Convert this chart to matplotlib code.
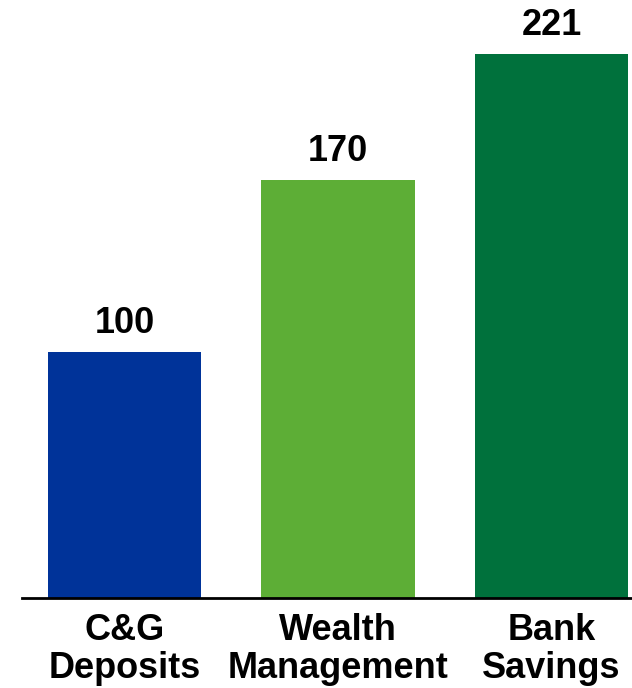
import matplotlib
matplotlib.use('Agg')
import matplotlib.pyplot as plt

# Índices por linha de negócio (base 100 = C&G Deposits)
categorias = ['C&G\nDeposits', 'Wealth\nManagement', 'Bank\nSavings']
valores = [100, 170, 221]
cores = ['#003399', '#5DAE36', '#00713C']

plt.rcParams['font.family'] = ['Liberation Sans', 'DejaVu Sans']

fig = plt.figure(figsize=(6.32, 6.88), dpi=100)
ax = fig.add_axes([22 / 632, 90 / 688, 610 / 632, 598 / 688])

x = range(len(valores))
bars = ax.bar(x, valores, width=0.717, color=cores, linewidth=0)

# valor em cima de cada barra
for bar, val in zip(bars, valores):
    ax.annotate(str(val),
                xy=(bar.get_x() + bar.get_width() / 2, bar.get_height()),
                xytext=(0, 13.5), textcoords='offset points',
                ha='center', va='baseline', fontsize=26, fontweight='bold')

ax.set_xlim(-0.48, 2.377)
ax.set_ylim(0, 243)
ax.set_xticks(list(x))
ax.set_xticklabels(categorias, fontsize=26, fontweight='bold', linespacing=1.12)
ax.tick_params(axis='x', length=0, pad=10.5)
ax.set_yticks([])

for lado in ['top', 'right', 'left']:
    ax.spines[lado].set_visible(False)
ax.spines['bottom'].set_linewidth(2)
ax.spines['bottom'].set_color('black')

fig.savefig('out.png', dpi=100)
